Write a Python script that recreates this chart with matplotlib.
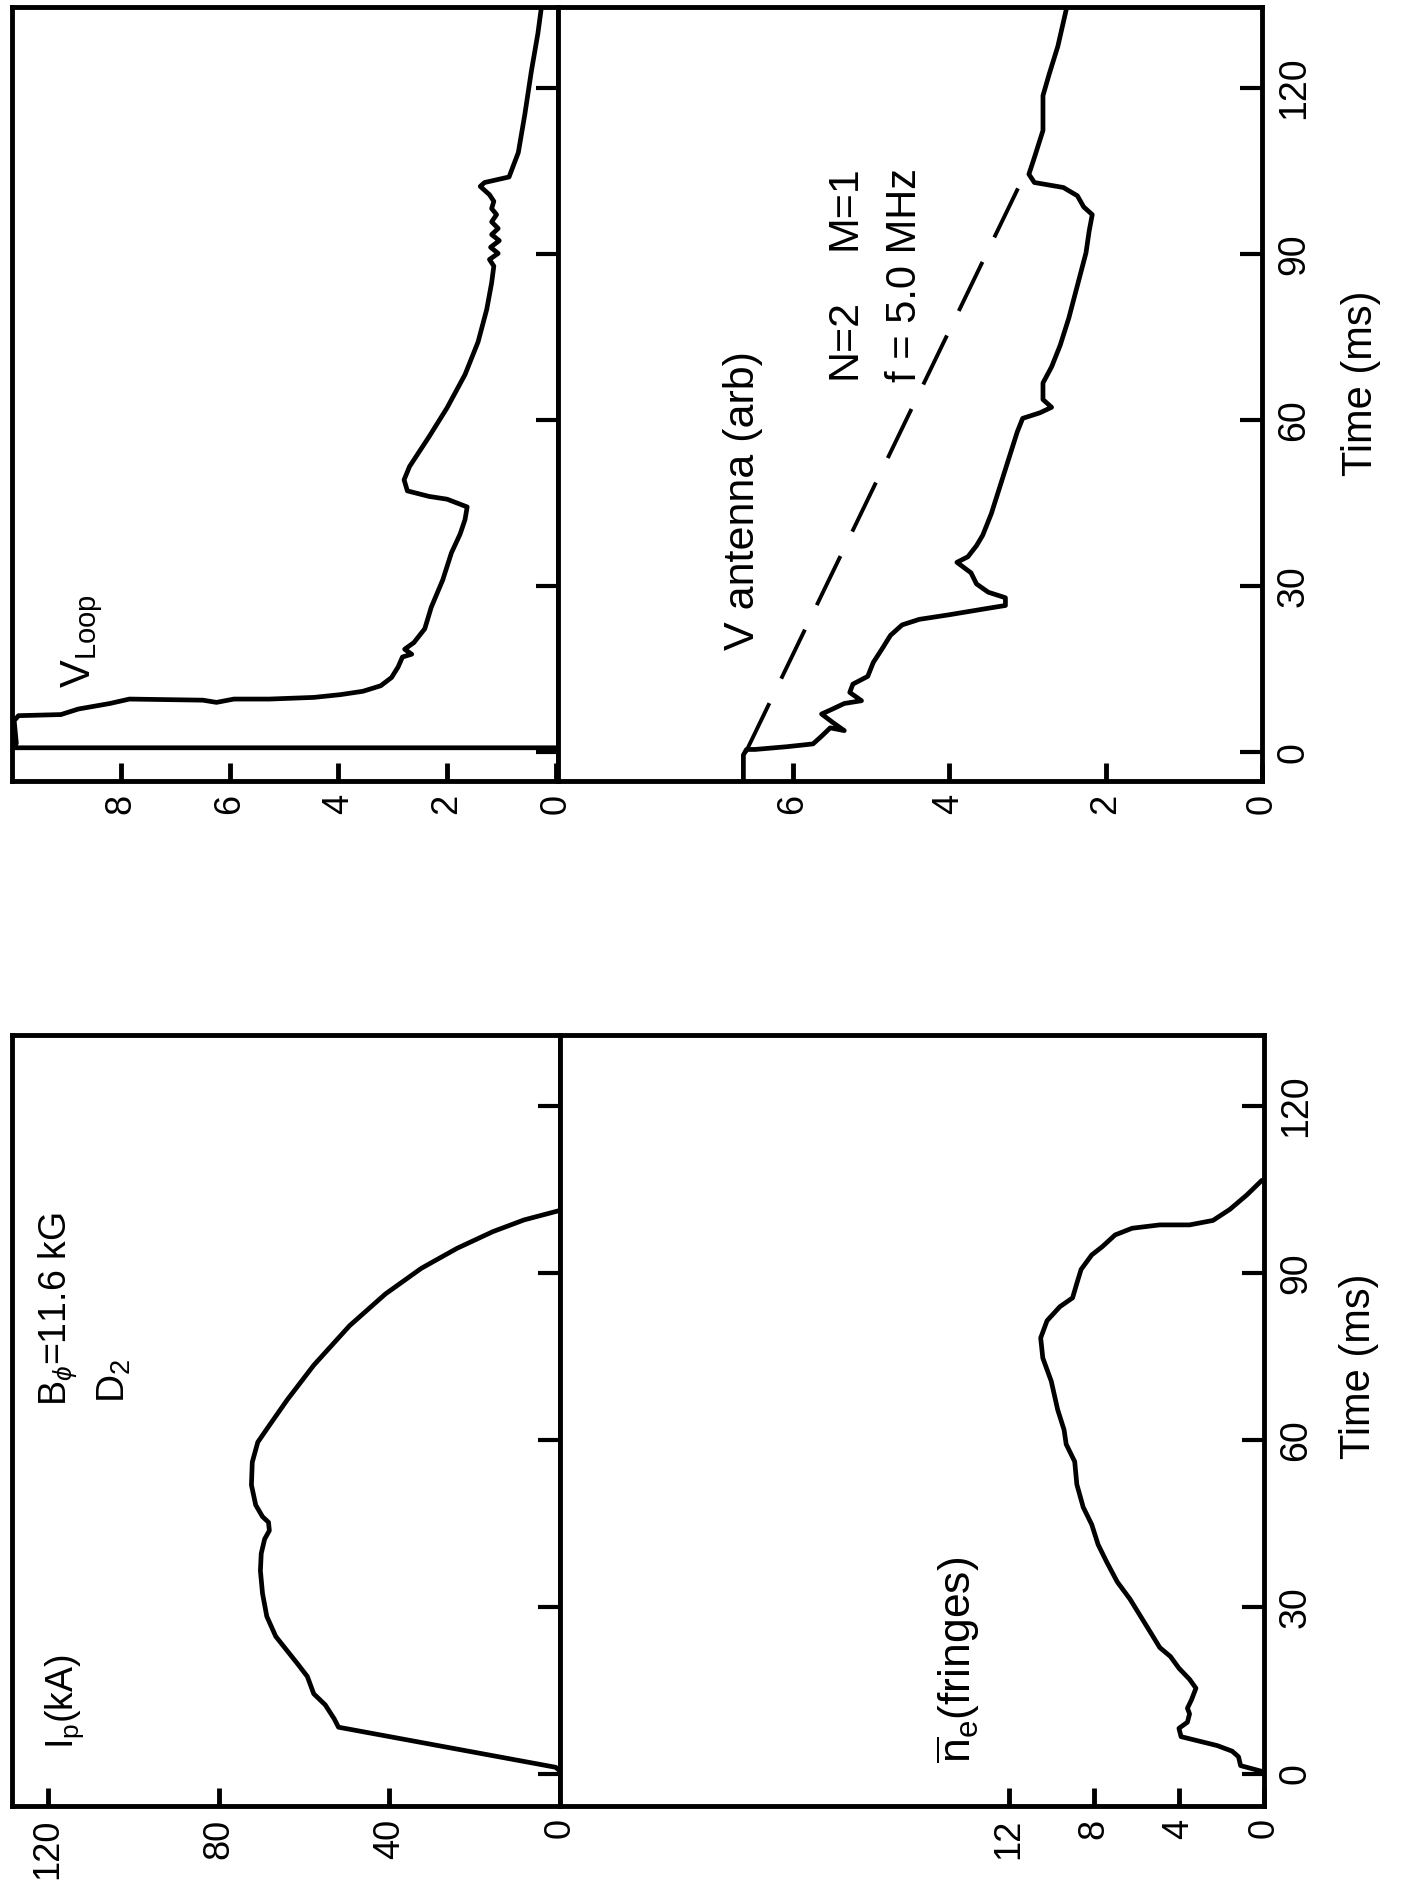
import numpy as np
import matplotlib.pyplot as plt

plt.rcParams['font.family'] = ['Liberation Sans Narrow', 'Liberation Sans', 'DejaVu Sans']
plt.rcParams['mathtext.fontset'] = 'custom'
plt.rcParams['mathtext.rm'] = 'Liberation Sans'
plt.rcParams['mathtext.it'] = 'Liberation Sans:italic'
plt.rcParams['mathtext.bf'] = 'Liberation Sans:bold'
plt.rcParams['mathtext.sf'] = 'Liberation Sans'

TXT = ['Liberation Sans', 'DejaVu Sans']

# plasma current I_p (kA) vs time (ms)
ip_val = [0, 1.0, 51.9, 52.9, 55.0, 57.7, 59.2, 61.3, 63.9, 66.6, 68.7, 69.7, 70.2, 70.0, 69.2,
          68.1, 68.3, 69.7, 71.3, 72.3, 72.1, 70.8, 68.1, 63.9, 57.7, 49.3, 40.9, 32.5, 24.1,
          15.7, 8.4, 1.0, 0]
ip_time = [0.5, 1.2, 8.4, 9.9, 12.4, 14.4, 17.5, 19.6, 22.1, 24.7, 28.3, 32.4, 36.5, 39.6, 42.2,
           43.7, 45.2, 46.2, 48.3, 51.9, 56.0, 59.6, 62.6, 67.2, 73.4, 80.5, 86.2, 90.8, 94.4,
           97.4, 99.5, 101.0, 101.2]

# line density (fringes)
ne_val = [0.13, 1.1, 1.2, 1.5, 2.2, 3.9, 4.0, 3.6, 3.5, 3.6, 3.4, 3.2, 3.5, 4.0, 4.4, 4.9, 5.3,
          5.8, 6.3, 6.9, 7.4, 7.8, 8.1, 8.5, 8.8, 8.9, 9.3, 9.4, 9.7, 10.0, 10.4, 10.5, 10.2,
          9.6, 9.0, 8.8, 8.6, 8.1, 7.6, 7.0, 6.2, 4.9, 3.5, 2.4, 1.6, 0.8, 0.1]
ne_time = [0.5, 1.5, 3.1, 4.1, 5.1, 6.7, 8.2, 9.3, 10.8, 11.8, 13.4, 15.4, 17.0, 19.0, 21.1,
           22.7, 25.2, 28.3, 31.4, 34.5, 38.1, 41.2, 44.8, 47.9, 52.0, 56.1, 59.2, 61.8, 65.4,
           70.5, 74.7, 78.3, 81.4, 83.9, 85.5, 88.1, 90.6, 93.2, 94.7, 96.8, 98.0, 98.6, 98.6,
           99.4, 101.4, 104.0, 106.6]

# loop voltage
vl_val = [0, 10.3, 9.92, 9.96, 9.88, 9.1, 8.78, 8.2, 7.84, 6.49, 6.24, 5.92, 5.27, 4.45, 3.96,
          3.55, 3.22, 3.02, 2.9, 2.82, 2.65, 2.78, 2.61, 2.41, 2.29, 2.08, 1.92, 1.76, 1.67,
          1.63, 2.0, 2.33, 2.73, 2.79, 2.69, 2.33, 2.0, 1.67, 1.43, 1.27, 1.18, 1.14, 1.22,
          1.06, 1.2, 1.04, 1.18, 1.06, 1.18, 1.09, 1.18, 1.14, 1.22, 1.39, 1.31, 0.86, 0.69,
          0.57, 0.45, 0.33, 0.27]
vl_time = [0.8, 0.8, 1.6, 5.7, 6.6, 6.8, 7.8, 8.8, 9.6, 9.4, 9.0, 9.6, 9.6, 9.9, 10.4, 11.0,
           12.0, 13.5, 15.4, 17.2, 17.7, 18.6, 19.8, 22.3, 26.2, 31.1, 36.0, 39.4, 42.0, 44.3,
           45.7, 46.2, 47.2, 49.2, 51.6, 57.0, 62.2, 68.2, 74.1, 80.0, 84.8, 87.8, 89.0, 90.1,
           91.2, 92.4, 93.5, 94.6, 95.8, 97.1, 98.2, 99.5, 100.7, 102.2, 102.9, 103.9, 108.3,
           115.2, 123.0, 129.8, 134.2]

# antenna voltage (arb)
va_val = [6.63, 6.63, 6.59, 6.48, 6.07, 5.74, 5.63, 5.52, 5.34, 5.49, 5.63, 5.49, 5.34, 5.12,
          5.27, 5.23, 5.04, 4.97, 4.86, 4.75, 4.6, 4.38, 4.01, 3.5, 3.28, 3.28, 3.5, 3.65, 3.72,
          3.9, 3.76, 3.65, 3.57, 3.46, 3.35, 3.24, 3.13, 3.06, 2.84, 2.69, 2.8, 2.8, 2.69, 2.58,
          2.47, 2.36, 2.25, 2.21, 2.17, 2.28, 2.36, 2.54, 2.91, 2.98, 2.91, 2.8, 2.8, 2.72,
          2.61, 2.5]
va_time = [-6.0, -0.5, 0.5, 0.5, 1.0, 1.5, 2.9, 4.4, 3.9, 5.4, 6.9, 7.8, 8.8, 9.3, 10.8, 12.3,
           13.7, 16.2, 18.6, 21.1, 23.0, 24.0, 24.8, 26.0, 26.5, 27.9, 28.9, 30.4, 32.4, 34.3,
           35.3, 37.3, 39.2, 43.1, 48.0, 52.9, 57.8, 60.3, 61.3, 62.3, 63.7, 66.7, 69.6, 73.5,
           78.4, 84.3, 90.2, 94.1, 97.1, 98.5, 100.5, 102.0, 102.9, 104.4, 107.4, 112.3,
           118.6, 122.5, 127.5, 134.3]

# dashed reference line on antenna panel
dash_val = [6.6, 3.08]
dash_time = [0.0, 103.0]

time_ticks = [0, 30, 60, 90, 120]

W, H = 1401, 1880


def box(x0, y0, x1, y1):
    return [x0 / W, 1 - y1 / H, (x1 - x0) / W, (y1 - y0) / H]


fig = plt.figure(figsize=(14.01, 18.8), dpi=100)
ax_vl = fig.add_axes(box(12, 7, 558, 781))
ax_va = fig.add_axes(box(558, 7, 1262, 781))
ax_ip = fig.add_axes(box(12, 1035, 560, 1806))
ax_ne = fig.add_axes(box(560, 1035, 1264, 1806))


def style(ax, xlim, xticks, ylim, show_time):
    ax.set_xlim(xlim)
    ax.set_ylim(ylim)
    ax.set_xticks(xticks)
    ax.set_yticks(time_ticks)
    ax.yaxis.tick_right()
    ax.tick_params(axis='x', direction='in', length=13, width=3.5, pad=9,
                   labelsize=26, labelrotation=90)
    ax.tick_params(axis='y', direction='in', length=16, width=3, pad=10,
                   labelsize=27, labelrotation=90, labelright=show_time, left=False)
    for lbl in ax.get_yticklabels():
        lbl.set_va('center')
    for s in ax.spines.values():
        s.set_linewidth(3.5)
    if show_time:
        ax.yaxis.set_label_position('right')
        ax.set_ylabel('Time (ms)', fontsize=30, family=TXT)


style(ax_vl, (10.0, -0.04), [0, 2, 4, 6, 8], (-5.2, 134.6), False)
style(ax_va, (9.0, 0), [0, 2, 4, 6], (-5.2, 134.6), True)
style(ax_ip, (128.4, 0), [0, 40, 80, 120], (-5.75, 132.7), False)
style(ax_ne, (33.1, 0), [0, 4, 8, 12], (-5.75, 132.7), True)

ax_va.yaxis.set_label_coords(1.112, 0.514)
ax_ne.yaxis.set_label_coords(1.107, 0.571)

kw = dict(color='black', lw=3.4, solid_joinstyle='round', solid_capstyle='round')
ax_ip.plot(ip_val, ip_time, **kw)
ax_ne.plot(ne_val, ne_time, **kw)
ax_vl.plot(vl_val, vl_time, **kw)
ax_va.plot(va_val, va_time, **kw)
ax_va.plot(dash_val, dash_time, color='black', lw=2.8, dashes=(14, 7))

tk = dict(rotation=90, ha='center', va='bottom', family=TXT, color='black')
ax_ip.text(116, 4.5, r'I$_{\mathrm{p}}$(kA)', fontsize=27, **tk)
ax_ip.text(117.6, 66, r'B$_{\phi}$=11.6 kG', fontsize=27, **tk)
ax_ip.text(104.5, 66.7, r'D$_{\mathrm{2}}$', fontsize=28, **tk)
ax_ne.text(14.4, 2, r'$\overline{\mathrm{n}}_{\mathrm{e}}$(fringes)', fontsize=32, **tk)
ax_vl.text(8.7, 11.6, r'V$_{\mathrm{Loop}}$', fontsize=30, **tk)
ax_va.text(6.63, 18.4, 'V antenna (arb)', fontsize=31, **tk)
ax_va.text(5.34, 67.4, 'N=2', fontsize=31, **tk)
ax_va.text(5.34, 90.7, 'M=1', fontsize=31, **tk)
ax_va.text(4.57, 66.9, 'f = 5.0 MHz', fontsize=30, **tk)

fig.savefig('out.png', dpi=100, facecolor='white')
